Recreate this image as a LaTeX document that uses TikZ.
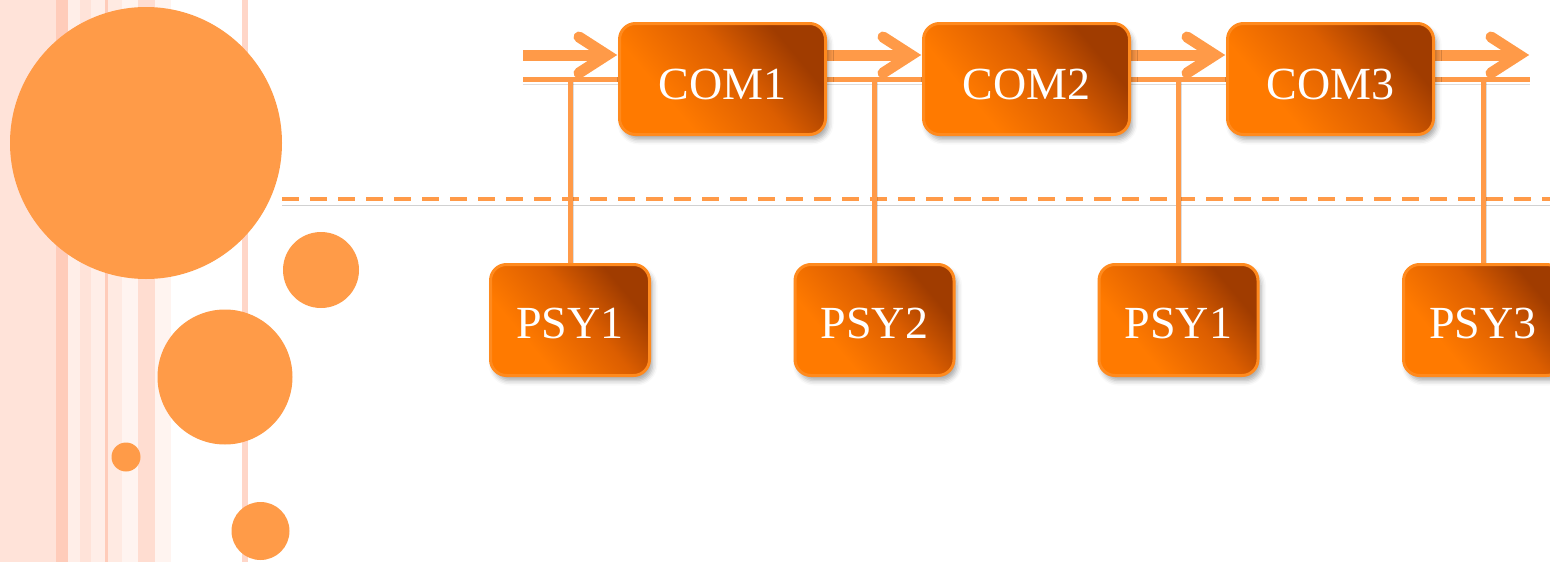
\documentclass[tikz,border=0pt]{standalone}
\usepackage{fontspec}
\setmainfont{Liberation Serif}
\usetikzlibrary{shadows.blur}
\definecolor{bgpink}{HTML}{FFE3D9}
\definecolor{stA}{HTML}{FFCCBA}
\definecolor{stB}{HTML}{FFEEE8}
\definecolor{stC}{HTML}{FFEAE2}
\definecolor{stD}{HTML}{FFF4F0}
\definecolor{stE}{HTML}{FFDDD1}
\definecolor{stF}{HTML}{FFD6C8}
\definecolor{circor}{HTML}{FF9B48}
\definecolor{lineor}{HTML}{FF9A48}
\definecolor{boxedge}{HTML}{FF8A1E}
\definecolor{bA}{HTML}{FF7A00}
\definecolor{bB}{HTML}{DC5E00}
\definecolor{bC}{HTML}{A03C00}
\pgfdeclarehorizontalshading{boxshade}{100bp}{color(0bp)=(bA); color(33bp)=(bA); color(55bp)=(bB); color(72bp)=(bC); color(100bp)=(bC)}
\pgfdeclarelayer{bg}
\pgfsetlayers{bg,main}
\tikzset{
  boxbase/.style={rounded corners=16, draw=boxedge, line width=3, shading=boxshade, shading angle=40,
    text=white, font=\fontsize{46}{50}\selectfont, minimum height=111, inner sep=0,
    blur shadow={shadow xshift=3pt, shadow yshift=-5pt, shadow blur radius=5pt, shadow opacity=35}},
  combox/.style={boxbase, minimum width=206, text height=40pt, text depth=0pt},
  psybox/.style={boxbase, minimum width=159, text height=37pt, text depth=0pt},
  lsh/.style={preaction={draw=black, draw opacity=0.13, transform canvas={yshift=-5pt}}},
  shaft/.style={draw=lineor, line width=11, lsh},
  chev/.style={draw=lineor, line width=11, line cap=round, line join=miter, lsh},
  busline/.style={draw=lineor, line width=5, lsh},
  vline/.style={draw=lineor, line width=5, preaction={draw=black, draw opacity=0.13, transform canvas={xshift=3pt,yshift=-3pt}}},
  dashline/.style={draw=lineor, line width=4, dash pattern=on 16.7pt off 11.3pt, preaction={draw=black, draw opacity=0.18, transform canvas={yshift=-6pt}}},
  blob/.style={fill=circor, draw=none}
}
\newcommand\chevat[1]{\draw[chev] (#1) ++(-11,0) ++(-28,-18) -- ++(28,18) -- ++(-28,18);}
\begin{document}
\begin{tikzpicture}[x=1pt,y=-1pt]
\useasboundingbox (0,0) rectangle (1550,562);
\clip (0,0) rectangle (1550,562);
% background stripes
\fill[bgpink] (0,0) rectangle (56,562);
\fill[stA] (56,0) rectangle (68,562);
\fill[stB] (68,0) rectangle (80,562);
\fill[bgpink] (80,0) rectangle (91,562);
\fill[stB] (91,0) rectangle (105,562);
\fill[stA] (105,0) rectangle (108,562);
\fill[stC] (108,0) rectangle (122,562);
\fill[stD] (122,0) rectangle (138,562);
\fill[stE] (138,0) rectangle (155,562);
\fill[stD] (155,0) rectangle (171,562);
\fill[stF] (242,0) rectangle (248,562);
% circles
\fill[blob] (146,143) circle[radius=136];
\fill[blob] (321,270) circle[radius=38];
\fill[blob] (225,377) circle[radius=67.5];
\fill[blob] (126,457) circle[radius=14.5];
\fill[blob] (260.5,531) circle[radius=29];
% boxes
\node[combox] (com1) at (722.5,79) {COM1};
\node[combox] (com2) at (1026.5,79) {COM2};
\node[combox] (com3) at (1330.5,79) {COM3};
\node[psybox] (psy1) at (570,320) {PSY1};
\node[psybox] (psy2) at (874.5,320) {PSY2};
\node[psybox] (psy1b) at (1178.5,320) {PSY1};
\node[psybox] (psy3) at (1483,320) {PSY3};
% bus coordinates
\coordinate (up0) at (523,55);
\coordinate (upE) at (1530,55);
\coordinate (bus0) at (523,79);
\coordinate (busE) at (1530,79);
\coordinate (dash0) at (282,199);
\coordinate (dashE) at (1550,199);
\coordinate (t1) at (com1.west |- up0);
\coordinate (t2) at (com2.west |- up0);
\coordinate (t3) at (com3.west |- up0);
\begin{pgfonlayer}{bg}
\draw[dashline] (dash0) -- (dashE);
\draw[busline] (bus0) -- (busE);
\draw[vline] (psy1.north |- bus0) -- (psy1.north);
\draw[vline] (psy2.north |- bus0) -- (psy2.north);
\draw[vline] (psy1b.north |- bus0) -- (psy1b.north);
\draw[vline] (psy3.north |- bus0) -- (psy3.north);
\draw[shaft] (up0) -- ([xshift=-11pt]t1);
\draw[shaft] (com1.east |- up0) -- ([xshift=-11pt]t2);
\draw[shaft] (com2.east |- up0) -- ([xshift=-11pt]t3);
\draw[shaft] (com3.east |- up0) -- ([xshift=-11pt]upE);
\chevat{t1}
\chevat{t2}
\chevat{t3}
\chevat{upE}
\end{pgfonlayer}
\end{tikzpicture}
\end{document}
